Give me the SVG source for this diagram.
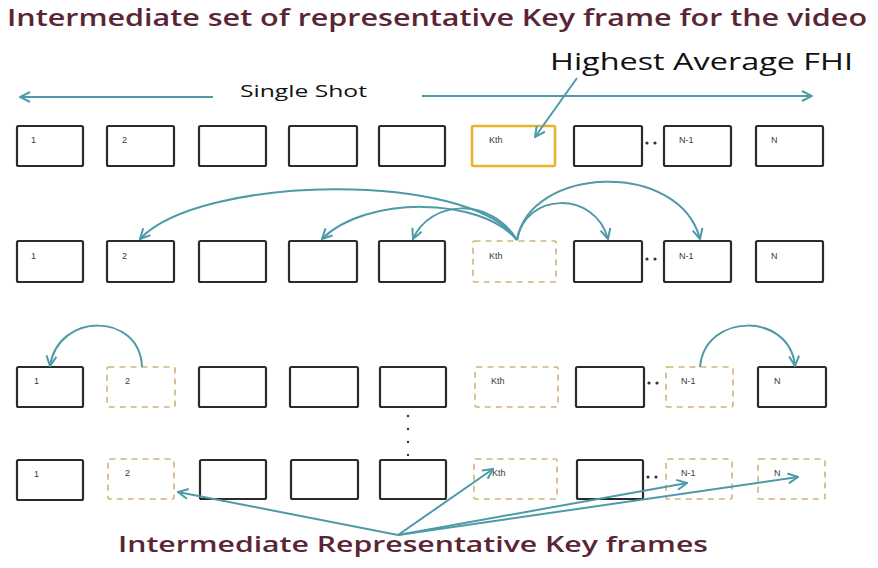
<svg xmlns="http://www.w3.org/2000/svg" width="878" height="568" viewBox="0 0 878 568">
  <style>
    .frame { fill: #ffffff; stroke: #2b2b2b; stroke-width: 2.2; }
    .key { fill: #ffffff; stroke: #e6b52e; stroke-width: 2.6; }
    .inter { fill: none; stroke: #cfb27a; stroke-width: 1.6; stroke-dasharray: 6 5; }
    .lbl { font-family: "Liberation Sans", Arial, sans-serif; font-size: 9px; fill: #3a3a3a; }
    .dots { fill: #333333; }
    .conn { fill: none; stroke: #4e9aa8; stroke-width: 2; }
    .title { font-family: "Open Sans", Lato, sans-serif; font-weight: 600; fill: #5a2535; }
    .black { font-family: "Open Sans", Lato, sans-serif; font-weight: 500; fill: #111111; }
  </style>
  <defs>
    <marker id="vhead" viewBox="0 0 12 12" refX="11" refY="6" markerWidth="12" markerHeight="12" markerUnits="userSpaceOnUse" orient="auto-start-reverse">
      <path d="M1,1 L11,6 L1,11" fill="none" stroke="#4e9aa8" stroke-width="2"/>
    </marker>
  </defs>

  <rect width="878" height="568" fill="#ffffff"/>

  <!-- headings -->
  <text class="title" x="7" y="26" font-size="23" textLength="860" lengthAdjust="spacingAndGlyphs">Intermediate set of representative Key frame for the video</text>
  <text class="black" x="550" y="70" font-size="24" textLength="303" lengthAdjust="spacingAndGlyphs">Highest  Average FHI</text>
  <text class="black" x="240" y="97" font-size="17" textLength="127" lengthAdjust="spacingAndGlyphs">Single Shot</text>
  <text class="title" x="118" y="552" font-size="22" textLength="590" lengthAdjust="spacingAndGlyphs">Intermediate Representative Key frames</text>

  <!-- row 1 : original frames of the shot -->
  <g id="r1-f1"><rect class="frame" x="17" y="126" width="66" height="40" rx="1.5"/><text class="lbl" x="31" y="143">1</text></g>
  <g id="r1-f2"><rect class="frame" x="107" y="126" width="67" height="40" rx="1.5"/><text class="lbl" x="122" y="143">2</text></g>
  <g id="r1-f3"><rect class="frame" x="199" y="126" width="67" height="40" rx="1.5"/></g>
  <g id="r1-f4"><rect class="frame" x="289" y="126" width="68" height="40" rx="1.5"/></g>
  <g id="r1-f5"><rect class="frame" x="379" y="126" width="66" height="40" rx="1.5"/></g>
  <g id="r1-fk"><rect class="key" x="472" y="126" width="83" height="40" rx="1.5"/><text class="lbl" x="489" y="143">Kth</text></g>
  <g id="r1-f7"><rect class="frame" x="574" y="126" width="68" height="40" rx="1.5"/></g>
  <g id="r1-gap"><circle class="dots" cx="647" cy="143" r="1.6"/><circle class="dots" cx="655" cy="143" r="1.6"/></g>
  <g id="r1-fn1"><rect class="frame" x="664" y="126" width="67" height="40" rx="1.5"/><text class="lbl" x="679" y="143">N-1</text></g>
  <g id="r1-fn"><rect class="frame" x="756" y="126" width="67" height="40" rx="1.5"/><text class="lbl" x="771" y="143">N</text></g>

  <!-- row 2 -->
  <g id="r2-f1"><rect class="frame" x="17" y="241" width="66" height="41" rx="1.5"/><text class="lbl" x="31" y="259">1</text></g>
  <g id="r2-f2"><rect class="frame" x="107" y="241" width="67" height="41" rx="1.5"/><text class="lbl" x="122" y="259">2</text></g>
  <g id="r2-f3"><rect class="frame" x="199" y="241" width="67" height="41" rx="1.5"/></g>
  <g id="r2-f4"><rect class="frame" x="289" y="241" width="68" height="41" rx="1.5"/></g>
  <g id="r2-f5"><rect class="frame" x="379" y="241" width="66" height="41" rx="1.5"/></g>
  <g id="r2-fk"><rect class="inter" x="473" y="241" width="83" height="41" rx="1.5"/><text class="lbl" x="489" y="259">Kth</text></g>
  <g id="r2-f7"><rect class="frame" x="574" y="241" width="68" height="41" rx="1.5"/></g>
  <g id="r2-gap"><circle class="dots" cx="647" cy="259" r="1.6"/><circle class="dots" cx="655" cy="259" r="1.6"/></g>
  <g id="r2-fn1"><rect class="frame" x="664" y="241" width="67" height="41" rx="1.5"/><text class="lbl" x="679" y="259">N-1</text></g>
  <g id="r2-fn"><rect class="frame" x="756" y="241" width="67" height="41" rx="1.5"/><text class="lbl" x="771" y="259">N</text></g>

  <!-- row 3 -->
  <g id="r3-f1"><rect class="frame" x="17" y="367" width="66" height="40" rx="1.5"/><text class="lbl" x="34" y="384">1</text></g>
  <g id="r3-f2"><rect class="inter" x="107" y="367" width="68" height="40" rx="1.5"/><text class="lbl" x="125" y="384">2</text></g>
  <g id="r3-f3"><rect class="frame" x="199" y="367" width="67" height="40" rx="1.5"/></g>
  <g id="r3-f4"><rect class="frame" x="290" y="367" width="68" height="40" rx="1.5"/></g>
  <g id="r3-f5"><rect class="frame" x="380" y="367" width="66" height="40" rx="1.5"/></g>
  <g id="r3-fk"><rect class="inter" x="475" y="367" width="83" height="40" rx="1.5"/><text class="lbl" x="491" y="384">Kth</text></g>
  <g id="r3-f7"><rect class="frame" x="576" y="367" width="68" height="40" rx="1.5"/></g>
  <g id="r3-gap"><circle class="dots" cx="649" cy="383" r="1.6"/><circle class="dots" cx="657" cy="383" r="1.6"/></g>
  <g id="r3-fn1"><rect class="inter" x="666" y="367" width="67" height="40" rx="1.5"/><text class="lbl" x="681" y="384">N-1</text></g>
  <g id="r3-fn"><rect class="frame" x="758" y="367" width="68" height="40" rx="1.5"/><text class="lbl" x="774" y="384">N</text></g>

  <!-- vertical ellipsis between rows 3 and 4 -->
  <g id="vgap">
    <circle class="dots" cx="408" cy="416" r="1.2"/>
    <circle class="dots" cx="408" cy="429" r="1.2"/>
    <circle class="dots" cx="408" cy="442" r="1.2"/>
    <circle class="dots" cx="408" cy="455" r="1.2"/>
  </g>

  <!-- row 4 -->
  <g id="r4-f1"><rect class="frame" x="17" y="460" width="66" height="40" rx="1.5"/><text class="lbl" x="34" y="477">1</text></g>
  <g id="r4-f2"><rect class="inter" x="108" y="459" width="66" height="40" rx="1.5"/><text class="lbl" x="125" y="476">2</text></g>
  <g id="r4-f3"><rect class="frame" x="200" y="460" width="66" height="39" rx="1.5"/></g>
  <g id="r4-f4"><rect class="frame" x="291" y="460" width="67" height="39" rx="1.5"/></g>
  <g id="r4-f5"><rect class="frame" x="380" y="460" width="66" height="39" rx="1.5"/></g>
  <g id="r4-fk"><rect class="inter" x="474" y="459" width="83" height="40" rx="1.5"/><text class="lbl" x="492" y="476">Kth</text></g>
  <g id="r4-f7"><rect class="frame" x="577" y="460" width="66" height="39" rx="1.5"/></g>
  <g id="r4-gap"><circle class="dots" cx="648" cy="477" r="1.6"/><circle class="dots" cx="656" cy="477" r="1.6"/></g>
  <g id="r4-fn1"><rect class="inter" x="666" y="459" width="66" height="40" rx="1.5"/><text class="lbl" x="681" y="476">N-1</text></g>
  <g id="r4-fn"><rect class="inter" x="758" y="459" width="67" height="40" rx="1.5"/><text class="lbl" x="774" y="476">N</text></g>

  <!-- connectors -->
  <g id="connectors">
    <line class="conn" x1="20" y1="97" x2="213" y2="97" marker-start="url(#vhead)"/>
    <line class="conn" x1="422" y1="96" x2="812" y2="96" marker-end="url(#vhead)"/>
    <path class="conn" d="M577,78 L535,137" marker-end="url(#vhead)"/>

    <path class="conn" d="M517,240 C470,170 200,175 140,239" marker-end="url(#vhead)"/>
    <path class="conn" d="M517,240 C480,196 365,196 322,239" marker-end="url(#vhead)"/>
    <path class="conn" d="M517,240 C490,196 430,200 413,239" marker-end="url(#vhead)"/>
    <path class="conn" d="M517,240 C525,192 595,190 608,239" marker-end="url(#vhead)"/>
    <path class="conn" d="M517,240 C530,165 680,160 700,239" marker-end="url(#vhead)"/>

    <path class="conn" d="M142,367 C140,312 58,312 50,366" marker-end="url(#vhead)"/>
    <path class="conn" d="M700,367 C705,312 790,312 795,366" marker-end="url(#vhead)"/>

    <path class="conn" d="M398,535 L178,492" marker-end="url(#vhead)"/>
    <path class="conn" d="M398,535 L493,469" marker-end="url(#vhead)"/>
    <path class="conn" d="M398,535 L687,483" marker-end="url(#vhead)"/>
    <path class="conn" d="M398,535 L798,477" marker-end="url(#vhead)"/>
  </g>
</svg>
